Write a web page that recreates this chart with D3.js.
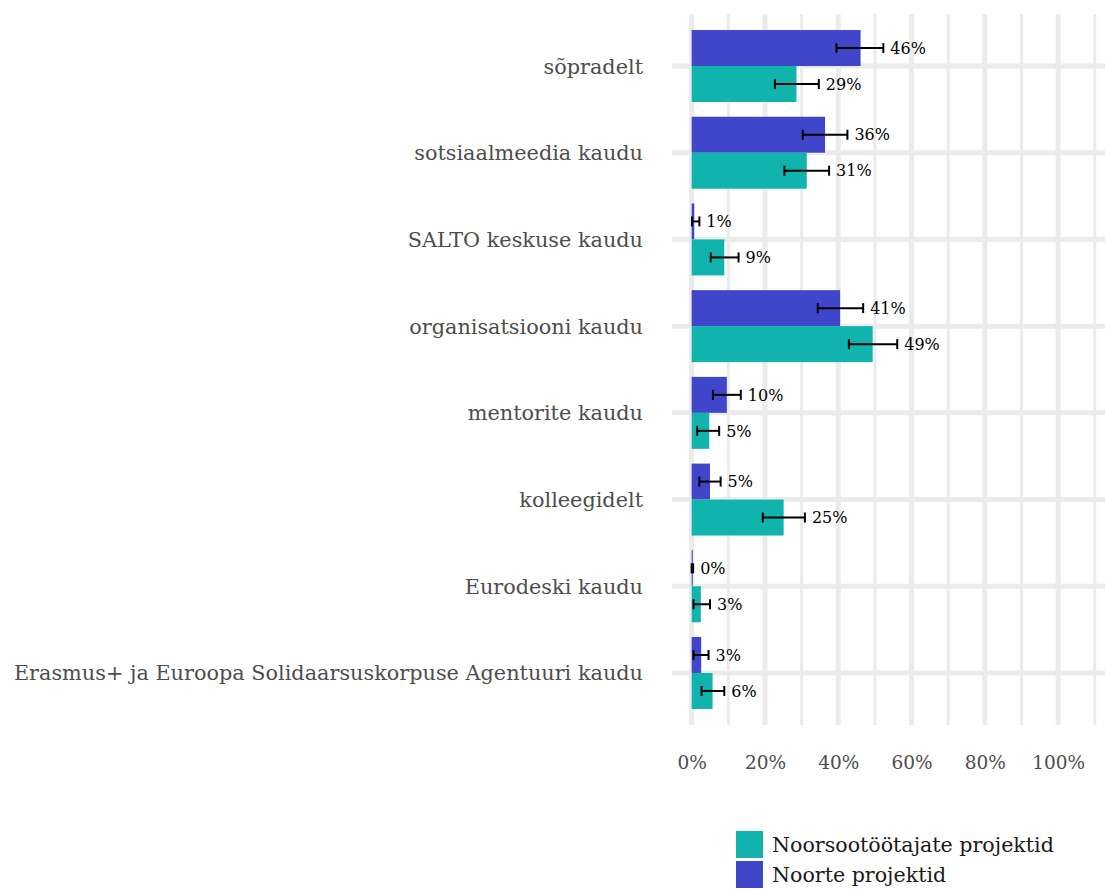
<!DOCTYPE html>
<html>
<head>
<meta charset="utf-8">
<script src="https://cdn.jsdelivr.net/npm/d3@7"></script>
<style>
  html, body { margin: 0; padding: 0; background: #fff; }
  svg { display: block; }
  text { font-family: "DejaVu Serif", serif; }
</style>
</head>
<body>
<svg id="chart" width="1105" height="889"></svg>
<script>
// Information sources, top to bottom
const categories = [
  "sõpradelt",
  "sotsiaalmeedia kaudu",
  "SALTO keskuse kaudu",
  "organisatsiooni kaudu",
  "mentorite kaudu",
  "kolleegidelt",
  "Eurodeski kaudu",
  "Erasmus+ ja Euroopa Solidaarsuskorpuse Agentuuri kaudu"
];

// Series names
const seriesNames = ["Noorte projektid", "Noorsootöötajate projektid"];

// Shares (%) per category, with confidence interval bounds
const noorteValues = [46.1, 36.4, 0.7, 40.5, 9.6, 5.0, 0.3, 2.6];
const noorteLow    = [39.5, 30.3, 0.1, 34.4, 5.8, 2.1, 0.0, 0.5];
const noorteHigh   = [52.3, 42.5, 2.1, 46.8, 13.4, 7.9, 0.4, 4.6];

const tootajateValues = [28.6, 31.4, 8.9, 49.4, 4.8, 25.1, 2.5, 5.7];
const tootajateLow    = [22.7, 25.3, 5.2, 42.9, 1.5, 19.4, 0.5, 2.7];
const tootajateHigh   = [34.7, 37.5, 12.8, 56.1, 7.5, 30.9, 5.0, 8.9];

const xTicks = [0, 20, 40, 60, 80, 100];
const xMinorTicks = [10, 30, 50, 70, 90, 110];

const colors = { "Noorte projektid": "#4046c9", "Noorsootöötajate projektid": "#10b4ac" };

const rows = [];
categories.forEach((c, i) => {
  rows.push({ cat: c, series: seriesNames[0], value: noorteValues[i], lo: noorteLow[i], hi: noorteHigh[i] });
  rows.push({ cat: c, series: seriesNames[1], value: tootajateValues[i], lo: tootajateLow[i], hi: tootajateHigh[i] });
});

const svg = d3.select("#chart");
const panel = { left: 672, right: 1105, top: 14, bottom: 725 };

const x = d3.scaleLinear().domain([-5.37, 112.8]).range([panel.left, panel.right]);
const y = d3.scalePoint().domain(categories).range([panel.top, panel.bottom]).padding(0.6);
const barH = y.step() * 0.415;
const inner = d3.scaleBand().domain(seriesNames).range([-barH, barH]);

// Grid lines
const grid = svg.append("g");
grid.selectAll("line.minor").data(xMinorTicks).join("line")
  .attr("x1", d => x(d)).attr("x2", d => x(d))
  .attr("y1", panel.top).attr("y2", panel.bottom)
  .attr("stroke", "#ebebeb").attr("stroke-width", 3);
grid.selectAll("line.major").data(xTicks).join("line")
  .attr("x1", d => x(d)).attr("x2", d => x(d))
  .attr("y1", panel.top).attr("y2", panel.bottom)
  .attr("stroke", "#ebebeb").attr("stroke-width", 5);
grid.selectAll("line.hcat").data(categories).join("line")
  .attr("x1", panel.left).attr("x2", panel.right)
  .attr("y1", d => y(d)).attr("y2", d => y(d))
  .attr("stroke", "#ebebeb").attr("stroke-width", 5);

// Bars
svg.append("g").selectAll("rect").data(rows).join("rect")
  .attr("x", x(0))
  .attr("y", d => y(d.cat) + inner(d.series))
  .attr("width", d => x(d.value) - x(0))
  .attr("height", inner.bandwidth())
  .attr("fill", d => colors[d.series]);

// Error bars
const eb = svg.append("g").attr("stroke", "#000").attr("stroke-width", 2).attr("fill", "none");
rows.forEach(d => {
  const cy = y(d.cat) + inner(d.series) + inner.bandwidth() / 2;
  eb.append("line").attr("x1", x(d.lo)).attr("x2", x(d.hi)).attr("y1", cy).attr("y2", cy);
  eb.append("line").attr("x1", x(d.lo)).attr("x2", x(d.lo)).attr("y1", cy - 5).attr("y2", cy + 5);
  eb.append("line").attr("x1", x(d.hi)).attr("x2", x(d.hi)).attr("y1", cy - 5).attr("y2", cy + 5);
});

// Value labels
svg.append("g").selectAll("text").data(rows).join("text")
  .attr("x", d => x(d.hi) + 7)
  .attr("y", d => y(d.cat) + inner(d.series) + inner.bandwidth() / 2)
  .attr("dy", "0.36em")
  .attr("font-size", 16)
  .attr("fill", "#000")
  .text(d => Math.round(d.value) + "%");

// Category axis labels
svg.append("g").selectAll("text").data(categories).join("text")
  .attr("x", 643)
  .attr("y", d => y(d))
  .attr("dy", "0.36em")
  .attr("text-anchor", "end")
  .attr("font-size", 20.8)
  .attr("fill", "#4d4d4d")
  .text(d => d);

// X axis
const xAxis = d3.axisBottom(x).tickValues(xTicks).tickSize(0).tickPadding(0)
  .tickFormat(d => d + "%");
const gx = svg.append("g").attr("transform", `translate(0,${panel.bottom})`).call(xAxis);
gx.select(".domain").remove();
gx.selectAll("text")
  .attr("y", 37).attr("dy", "0.36em")
  .attr("font-size", 18.5)
  .attr("font-family", "DejaVu Serif, serif")
  .attr("fill", "#4d4d4d");

// Legend
const legendItems = [seriesNames[1], seriesNames[0]];
const lg = svg.append("g").attr("transform", "translate(736,831)");
legendItems.forEach((s, i) => {
  const g = lg.append("g").attr("transform", `translate(0,${i * 30})`);
  g.append("rect").attr("width", 27).attr("height", 27).attr("fill", colors[s]);
  g.append("text").attr("x", 36).attr("y", 13.5).attr("dy", "0.36em")
    .attr("font-size", 20.6).attr("fill", "#1a1a1a").text(s);
});
</script>
</body>
</html>
